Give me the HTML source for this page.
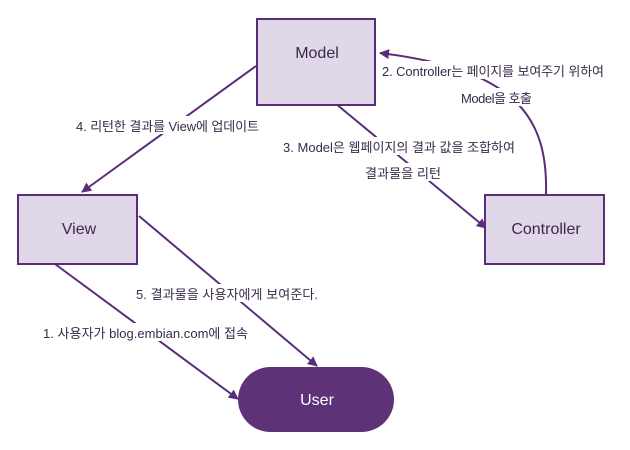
<!DOCTYPE html>
<html><head><style>body{margin:0;background:#fff}svg{display:block}text{font-family:"Liberation Sans","Noto Sans CJK KR",sans-serif}</style></head><body>
<svg width="630" height="450" viewBox="0 0 630 450">
<defs><marker id="a" markerWidth="10" markerHeight="10" refX="9" refY="5" orient="auto" markerUnits="userSpaceOnUse"><path d="M0,0 L10,5 L0,10 Z" fill="#5a2d7a"/></marker></defs>
<g stroke="#5a2d7a" stroke-width="2" fill="none">
<path d="M256,66 L82,192" marker-end="url(#a)"/>
<path d="M318,89 L486,228" marker-end="url(#a)"/>
<path d="M546,195 C548,120 520,70 380,53" marker-end="url(#a)"/>
<path d="M55,264 L238,399" marker-end="url(#a)"/>
<path d="M139,216 L317,366" marker-end="url(#a)"/>
</g>
<g fill="#e0d8e8" stroke="#5a2d7a" stroke-width="2">
<rect x="257" y="19" width="118" height="86"/>
<rect x="18" y="195" width="119" height="69"/>
<rect x="485" y="195" width="119" height="69"/>
</g>
<rect x="238" y="367" width="156" height="65" rx="32.5" fill="#5e3277"/>
<g font-size="16" text-anchor="middle" fill="#3a2a4a">
<text x="317" y="58">Model</text><text x="79" y="234">View</text><text x="546" y="234">Controller</text>
<text x="317" y="405" fill="#fff">User</text>
</g>
<g font-size="13" fill="#3a2a4a">
<rect x="380" y="61" width="230" height="18" fill="#fff"/><text x="382" y="76" textLength="222">2. Controller는 페이지를 보여주기 위하여</text>
<rect x="460" y="88" width="75" height="18" fill="#fff"/><text x="461" y="103" textLength="71">Model을 호출</text>
<rect x="74" y="116" width="190" height="18" fill="#fff"/><text x="76" y="131" textLength="183">4. 리턴한 결과를 View에 업데이트</text>
<rect x="280" y="137" width="240" height="18" fill="#fff"/><text x="283" y="152" textLength="232">3. Model은 웹페이지의 결과 값을 조합하여</text>
<rect x="362" y="163" width="82" height="18" fill="#fff"/><text x="365" y="178" textLength="76">결과물을 리턴</text>
<rect x="134" y="284" width="190" height="18" fill="#fff"/><text x="136" y="299" textLength="182">5. 결과물을 사용자에게 보여준다.</text>
<rect x="40" y="323" width="212" height="18" fill="#fff"/><text x="43" y="338" textLength="205">1. 사용자가 blog.embian.com에 접속</text>
</g>
</svg>
</body></html>
